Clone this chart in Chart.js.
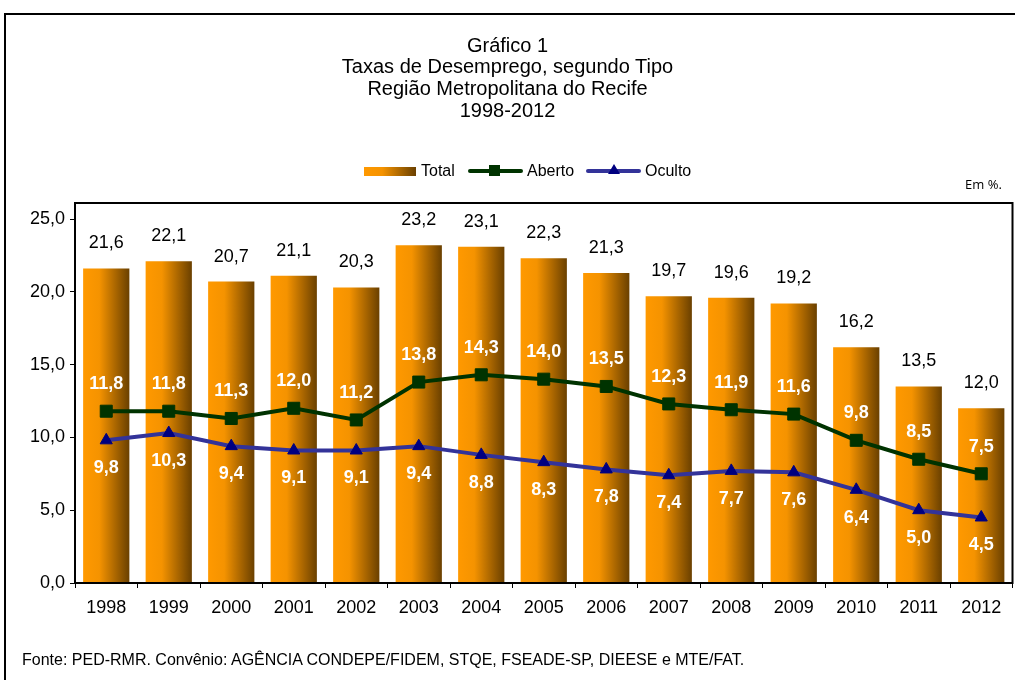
<!DOCTYPE html>
<html>
<head>
<meta charset="utf-8">
<script src="https://cdn.jsdelivr.net/npm/chart.js@4.4.1/dist/chart.umd.min.js"></script>
<style>
  html, body { margin: 0; padding: 0; background: #fff; overflow: hidden; }
  body { width: 1015px; height: 680px; position: relative; font-family: 'Liberation Sans', Arial, sans-serif; }
  #frame { position: absolute; left: 4px; top: 13px; width: 1100px; height: 800px; border: 2px solid #000; box-shadow: 1px 1px 0 #888; }
  #wrap { position: absolute; left: 0; top: 0; width: 1015px; height: 680px; overflow: hidden; }
  .title { position: absolute; left: 0; width: 1015px; text-align: center; font-size: 20px; line-height: 22px; color: #000; }
  .leg { position: absolute; font-size: 16px; line-height: 18px; color: #000; }
  #note { position: absolute; left: 965px; top: 175px; font-family: 'Open Sans', sans-serif; font-size: 13px; }
  #fonte { position: absolute; left: 22px; top: 651px; font-size: 16px; }
</style>
</head>
<body>
<div id="frame"></div>
<div id="wrap"><canvas id="chart" width="1015" height="680"></canvas></div>
<div class="title" style="top:34px">Gráfico 1</div>
<div class="title" style="top:55px">Taxas de Desemprego, segundo Tipo</div>
<div class="title" style="top:77px">Região Metropolitana do Recife</div>
<div class="title" style="top:99px">1998-2012</div>
<div class="leg" style="left:364px;top:167px;width:52px;height:9px;background:linear-gradient(to right,#FF9900 0%,#F59300 35%,#6A4000 100%)"></div>
<div class="leg" style="left:421px;top:162px">Total</div>
<div class="leg" style="left:468px;top:169px;width:55px;height:4px;background:#003300;border-radius:2px"></div>
<div class="leg" style="left:489px;top:165px;width:11px;height:11px;background:#003300"></div>
<div class="leg" style="left:527px;top:162px">Aberto</div>
<div class="leg" style="left:586px;top:169px;width:55px;height:4px;background:#333399;border-radius:2px"></div>
<div class="leg" style="left:608px;top:164px;width:0;height:0;border-left:6px solid transparent;border-right:6px solid transparent;border-bottom:10px solid #000080"></div>
<div class="leg" style="left:645px;top:162px">Oculto</div>
<div id="note">Em %.</div>
<div id="fonte">Fonte: PED-RMR. Convênio: AGÊNCIA CONDEPE/FIDEM, STQE, FSEADE-SP, DIEESE e MTE/FAT.</div>
<script>
const anos = ['1998', '1999', '2000', '2001', '2002', '2003', '2004', '2005', '2006', '2007', '2008', '2009', '2010', '2011', '2012']
const total = [21.6, 22.1, 20.7, 21.1, 20.3, 23.2, 23.1, 22.3, 21.3, 19.7, 19.6, 19.2, 16.2, 13.5, 12.0]
const aberto = [11.8, 11.8, 11.3, 12.0, 11.2, 13.8, 14.3, 14.0, 13.5, 12.3, 11.9, 11.6, 9.8, 8.5, 7.5]
const oculto = [9.8, 10.3, 9.4, 9.1, 9.1, 9.4, 8.8, 8.3, 7.8, 7.4, 7.7, 7.6, 6.4, 5.0, 4.5]
const yTicks = [0, 5, 10, 15, 20, 25]

const BAR_PCT = 0.74
const PLOT_RIGHT = 1012
const fmt = v => v.toFixed(1).replace('.', ',')

// gradiente horizontal em cada barra
function barGradient(ctx) {
    const chart = ctx.chart
    const xs = chart.scales.x
    if (!xs || ctx.dataIndex === undefined) return '#FF9900'
    const cx = xs.getPixelForValue(ctx.dataIndex)
    const half = (xs.width / anos.length) * BAR_PCT / 2
    if (!isFinite(cx) || !isFinite(half) || half <= 0) return '#FF9900'
    const g = chart.ctx.createLinearGradient(cx - half, 0, cx + half, 0)
    g.addColorStop(0, '#FF9900')
    g.addColorStop(0.35, '#F59300')
    g.addColorStop(1, '#6A4000')
    return g
}

const plotFrame = {
    id: 'plotFrame',
    afterDraw(chart) {
        const { ctx, chartArea: a } = chart
        ctx.save()
        ctx.strokeStyle = '#000'
        ctx.lineWidth = 2
        ctx.strokeRect(a.left, a.top, a.right - a.left, a.bottom - a.top)
        ctx.restore()
    }
}

const valueLabels = {
    id: 'valueLabels',
    afterDatasetsDraw(chart) {
        const ctx = chart.ctx
        ctx.save()
        ctx.textAlign = 'center'
        ctx.textBaseline = 'middle'
        chart.getDatasetMeta(0).data.forEach((el, i) => {
            ctx.font = '18px "Liberation Sans", Arial'
            ctx.fillStyle = '#000'
            ctx.fillText(fmt(total[i]), el.x, el.y - 25)
        })
        ctx.font = 'bold 18px "Liberation Sans", Arial'
        ctx.fillStyle = '#fff'
        chart.getDatasetMeta(1).data.forEach((el, i) => {
            ctx.fillText(fmt(aberto[i]), el.x, el.y - 27)
        })
        chart.getDatasetMeta(2).data.forEach((el, i) => {
            ctx.fillText(fmt(oculto[i]), el.x, el.y + 28)
        })
        ctx.restore()
    }
}

function makeChart(canvas) {
    return new Chart(canvas, {
        type: 'bar',
        data: {
            labels: anos,
            datasets: [
                {
                    label: 'Total',
                    data: total,
                    backgroundColor: barGradient,
                    categoryPercentage: 1,
                    barPercentage: BAR_PCT,
                    order: 3
                },
                {
                    type: 'line',
                    label: 'Aberto',
                    data: aberto,
                    borderColor: '#003300',
                    borderWidth: 4,
                    pointStyle: 'rect',
                    pointRadius: 8.5,
                    pointBackgroundColor: '#003300',
                    pointBorderColor: '#003300',
                    pointBorderWidth: 1,
                    tension: 0,
                    order: 1
                },
                {
                    type: 'line',
                    label: 'Oculto',
                    data: oculto,
                    borderColor: '#333399',
                    borderWidth: 4,
                    pointStyle: 'triangle',
                    pointRadius: 7,
                    pointBackgroundColor: '#000080',
                    pointBorderColor: '#000080',
                    pointBorderWidth: 1,
                    tension: 0,
                    order: 2
                }
            ]
        },
        options: {
            responsive: false,
            animation: false,
            layout: { padding: { left: 0, top: 203, right: 3, bottom: 57 } },
            plugins: {
                legend: { display: false },
                title: { display: false },
                tooltip: { enabled: false }
            },
            scales: {
                x: {
                    afterFit: s => { s.height = 40; s.paddingLeft = 0; s.paddingRight = 0 },
                    grid: { drawOnChartArea: false, drawTicks: true, tickLength: 5, color: '#000', offset: true },
                    border: { color: '#000', width: 2 },
                    ticks: { color: '#000', padding: 9, font: { family: 'Liberation Sans', size: 18 }, maxRotation: 0 }
                },
                y: {
                    min: 0,
                    max: 26.1,
                    afterFit: s => { s.width = 75 },
                    afterBuildTicks: s => { s.ticks = yTicks.map(v => ({ value: v })) },
                    grid: { drawOnChartArea: false, drawTicks: true, tickLength: 5, color: '#000' },
                    border: { color: '#000', width: 2 },
                    ticks: {
                        color: '#000',
                        padding: 5,
                        font: { family: 'Liberation Sans', size: 18 },
                        callback: v => fmt(v)
                    }
                }
            }
        },
        plugins: [plotFrame, valueLabels]
    })
}

const canvas = document.getElementById('chart')
let chart = makeChart(canvas)
// compensa a margem extra à direita para a área do gráfico terminar em PLOT_RIGHT
const diff = Math.round(PLOT_RIGHT - chart.chartArea.right)
if (diff > 0) {
    chart.destroy()
    canvas.width = 1015 + diff
    canvas.height = 680
    chart = makeChart(canvas)
}
</script>
</body>
</html>
